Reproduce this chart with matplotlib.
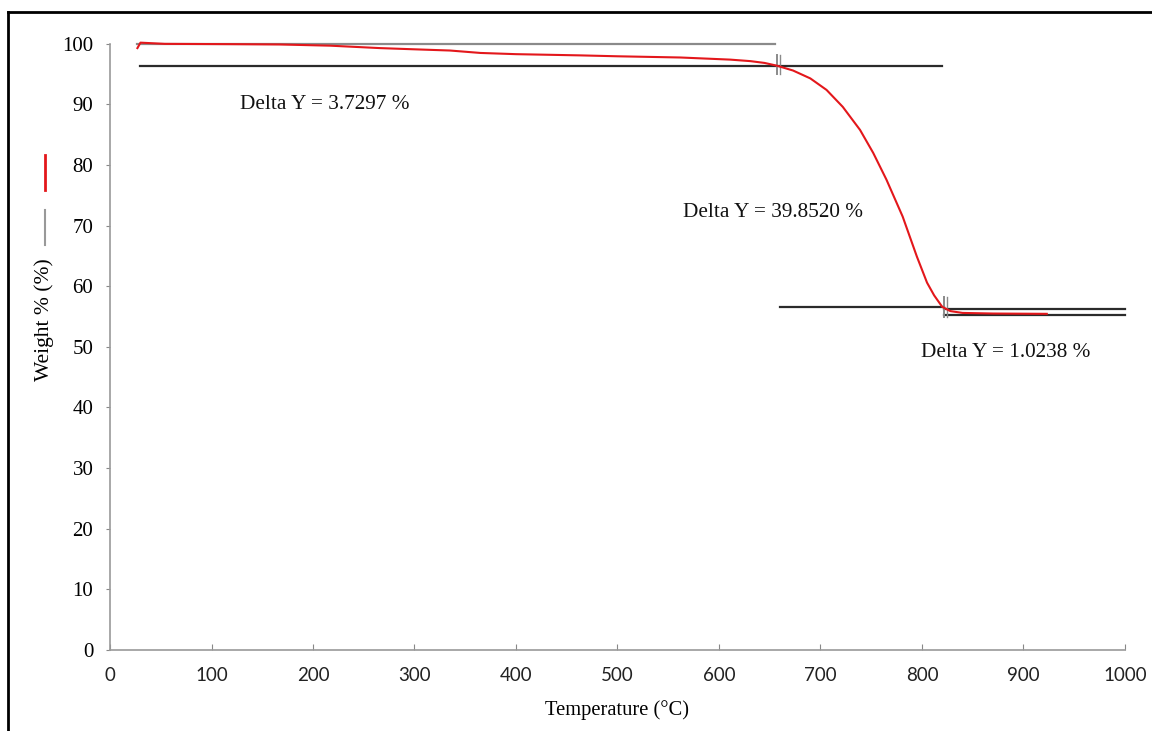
import numpy as np
from matplotlib import pyplot as plt
from matplotlib.lines import Line2D

# TGA curve
temp   = [27, 30, 54, 120, 167, 217, 266, 300, 335, 365, 400, 463, 500, 562, 611, 631, 645, 657,
          673, 690, 706, 722, 739, 752, 765, 781, 795, 805, 812, 820, 828, 840, 870, 923]
weight = [99.3, 100.2, 100.0, 99.95, 99.9, 99.7, 99.3, 99.1, 98.9, 98.5, 98.3, 98.1, 97.95, 97.75, 97.4, 97.15, 96.85, 96.4,
          95.6, 94.3, 92.4, 89.6, 85.8, 82.0, 77.6, 71.5, 64.9, 60.6, 58.5, 56.6, 55.9, 55.6, 55.5, 55.45]

# baselines  (x0, x1, y)
base_gray  = (27, 655, 100.0)
base_black = [(30, 820, 96.4), (660, 822, 56.55), (822, 1000, 56.3), (822, 1000, 55.3)]
markers    = [(657, 95.0, 98.2), (822, 54.9, 58.3)]

notes = [(128, 90.0, 'Delta Y = 3.7297 %'),
         (565, 72.1, 'Delta Y = 39.8520 %'),
         (799, 49.0, 'Delta Y = 1.0238 %')]

xticks = [0, 100, 200, 300, 400, 500, 600, 700, 800, 900, 1000]
yticks = [0, 10, 20, 30, 40, 50, 60, 70, 80, 90, 100]

serif = 'Liberation Serif'

plt.close('all')
fig = plt.figure(figsize=(11.52, 7.31), dpi=100)
ax = fig.add_axes([0.0955, 0.111, 0.881, 0.829])

ax.plot([base_gray[0], base_gray[1]], [base_gray[2], base_gray[2]], color='#8a8a8a', lw=1.6, clip_on=False)
for x0, x1, y in base_black:
    ax.plot([x0, x1], [y, y], color='#2b2b2b', lw=1.6, clip_on=False)
for x, y0, y1 in markers:
    ax.plot([x, x], [y0, y1], color='#8a8a8a', lw=1.4)
    ax.plot([x + 3, x + 3], [y0, y1], color='#8a8a8a', lw=1.0)
ax.plot(temp, weight, color='#e3171b', lw=1.5, clip_on=False, solid_joinstyle='round')

for x, y, s in notes:
    ax.text(x, y, s, fontsize=15.3, family=serif, color='#111111', va='center')

ax.set_xlim(0, 1000)
ax.set_ylim(0, 100)
ax.set_xticks(xticks)
ax.set_yticks(yticks)
ax.set_xticklabels([str(v) for v in xticks], family='Lato', fontsize=13.5, color='#222222')
ax.set_yticklabels([str(v) for v in yticks], family=serif, fontsize=15)
ax.tick_params(axis='x', direction='in', length=4, color='#888888', pad=12)
ax.tick_params(axis='y', direction='out', length=3, color='#888888', pad=9)
for s in ['top', 'right']:
    ax.spines[s].set_visible(False)
for s in ['left', 'bottom']:
    ax.spines[s].set_color('#9a9a9a')
    ax.spines[s].set_linewidth(1.2)

ax.set_xlabel('Temperature (°C)', family=serif, fontsize=14.8, labelpad=12)
ax.set_ylabel('Weight % (%)', family=serif, fontsize=15.5)
ax.yaxis.set_label_coords(-0.055, 0.545)

# odd vertical legend glyphs on the left
fig.add_artist(Line2D([0.039, 0.039], [0.740, 0.788], color='#e3171b', lw=2))
fig.add_artist(Line2D([0.039, 0.039], [0.665, 0.713], color='#999999', lw=1.5))

# frame of the picture (left and top)
fig.add_artist(Line2D([0.007, 0.007], [0.0, 0.984], color='black', lw=2))
fig.add_artist(Line2D([0.007, 1.0], [0.984, 0.984], color='black', lw=2))

fig.savefig('out.png', dpi=100)
